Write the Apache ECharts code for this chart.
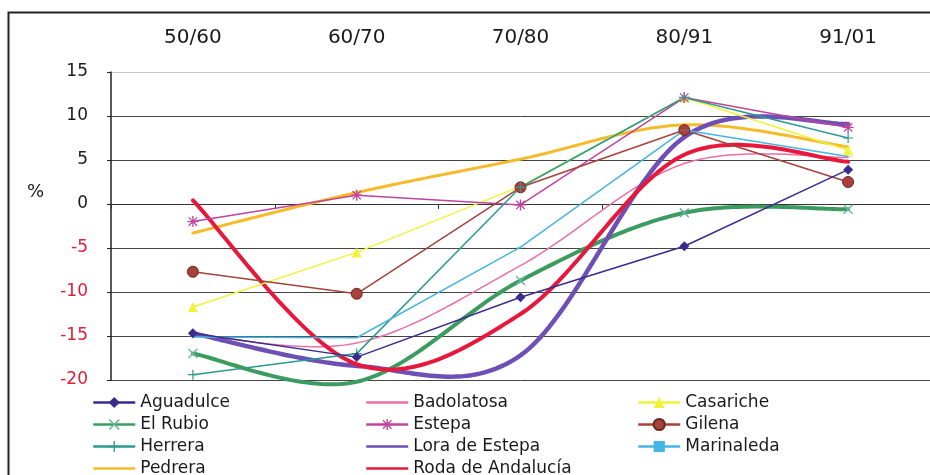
<!DOCTYPE html>
<html>
<head>
<meta charset="utf-8">
<script src="https://cdn.jsdelivr.net/npm/echarts@6/dist/echarts.min.js"></script>
<style>
html,body{margin:0;padding:0;background:#fff;}
#chart{width:930px;height:475px;}
</style>
</head>
<body>
<div id="chart"></div>
<script>
var categories = ['50/60', '60/70', '70/80', '80/91', '91/01'];
var yTicks = [-20, 15, 5];

var aguadulce  = [-14.7, -17.4, -10.6, -4.8, 3.9];
var badolatosa = [-14.8, -15.8, -7.0, 4.6, 5.3];
var casariche  = [-11.7, -5.5, 2.0, 12.1, 6.1];
var elRubio    = [-17.0, -20.2, -8.7, -1.0, -0.6];
var estepa     = [-2.0, 1.0, -0.1, 12.1, 8.7];
var gilena     = [-7.7, -10.2, 1.9, 8.4, 2.5];
var herrera    = [-19.4, -17.0, 1.9, 12.1, 7.5];
var lora       = [-14.7, -18.4, -17.2, 7.6, 9.1];
var marinaleda = [-15.1, -15.2, -4.9, 8.4, 5.4];
var pedrera    = [-3.3, 1.3, 5.1, 9.0, 6.5];
var roda       = [0.4, -18.2, -12.5, 5.6, 4.8];

var legendCol1 = ['Aguadulce', 'El Rubio', 'Herrera', 'Pedrera'];
var legendCol2 = ['Badolatosa', 'Estepa', 'Lora de Estepa', 'Roda de Andalucía'];
var legendCol3 = ['Casariche', 'Gilena', 'Marinaleda'];
var noMarker = ['Badolatosa', 'Pedrera', 'Lora de Estepa', 'Roda de Andalucía'];

var SYM_X = 'path://M0,1 L1,0 L5,4 L9,0 L10,1 L6,5 L10,9 L9,10 L5,6 L1,10 L0,9 L4,5 Z';
var SYM_PLUS = 'path://M4.4,0 H5.6 V4.4 H10 V5.6 H5.6 V10 H4.4 V5.6 H0 V4.4 H4.4 Z';
var SYM_AST = 'path://M4.4,0 H5.6 V4.4 H10 V5.6 H5.6 V10 H4.4 V5.6 H0 V4.4 H4.4 Z M0.8,1.6 L1.6,0.8 L5,4.2 L8.4,0.8 L9.2,1.6 L5.8,5 L9.2,8.4 L8.4,9.2 L5,5.8 L1.6,9.2 L0.8,8.4 L4.2,5 Z';
var SYM_DASH = 'path://M0,0 H10 V2 H0 Z';

function mk(name, data, color, width, symbol, size, extra) {
  var s = {
    name: name, type: 'line', data: data, smooth: false,
    xAxisIndex: 0, yAxisIndex: 0,
    lineStyle: { color: color, width: width },
    itemStyle: { color: color },
    symbol: symbol || 'circle', symbolSize: size || 4, showSymbol: !!symbol,
    emphasis: { disabled: true }, animation: false
  };
  if (extra) { for (var k in extra) s[k] = extra[k]; }
  return s;
}

// Excel-style smoothed curve (Catmull-Rom through the data points, via axis coords)
function smoothCurve(values, color, width) {
  return {
    type: 'custom', xAxisIndex: 0, yAxisIndex: 0, silent: true, animation: false,
    data: values.map(function (v, i) { return [i, v]; }),
    encode: { x: 0, y: 1 },
    renderItem: function (params, api) {
      if (params.dataIndex !== 0) return null;
      var P = values.map(function (v, i) { return api.coord([i, v]); });
      var n = P.length, pts = [];
      for (var i = 0; i < n - 1; i++) {
        var p0 = P[Math.max(i - 1, 0)], p1 = P[i], p2 = P[i + 1], p3 = P[Math.min(i + 2, n - 1)];
        var c1 = [p1[0] + (p2[0] - p0[0]) / 6, p1[1] + (p2[1] - p0[1]) / 6];
        var c2 = [p2[0] - (p3[0] - p1[0]) / 6, p2[1] - (p3[1] - p1[1]) / 6];
        for (var s = 0; s <= 40; s++) {
          if (i > 0 && s === 0) continue;
          var t = s / 40, u = 1 - t;
          pts.push([
            u*u*u*p1[0] + 3*u*u*t*c1[0] + 3*u*t*t*c2[0] + t*t*t*p2[0],
            u*u*u*p1[1] + 3*u*u*t*c1[1] + 3*u*t*t*c2[1] + t*t*t*p2[1]
          ]);
        }
      }
      return { type: 'polyline', shape: { points: pts },
        style: { stroke: color, lineWidth: width, fill: null, lineJoin: 'round', lineCap: 'round' } };
    }
  };
}

function hid(color, width) { return { lineStyle: { color: color, width: width, opacity: 0 } }; }

var series = [
  mk('Badolatosa', badolatosa, '#ec6fa5', 1.5, null, null, hid('#ec6fa5', 1.5)),
  smoothCurve(badolatosa, '#ec6fa5', 1.5),
  mk('Casariche', casariche, '#f2f23a', 1.5, 'triangle', 10),
  mk('Pedrera', pedrera, '#f6bb2a', 3, null, null, hid('#f6bb2a', 3)),
  smoothCurve(pedrera, '#f6bb2a', 3),
  mk('Estepa', estepa, '#c0439c', 1.5, SYM_AST, 11),
  mk('Gilena', gilena, '#a8413b', 1.5, 'circle', 11, {itemStyle:{color:'#a8413b', borderColor:'#6b2a20', borderWidth:1}}),
  mk('Herrera', herrera, '#2b9b8f', 1.5, SYM_PLUS, 10),
  mk('Marinaleda', marinaleda, '#45b5e3', 1.5, SYM_DASH, [10, 2], {symbolKeepAspect: true}),
  smoothCurve(elRubio, '#3c9b5e', 4),
  mk('El Rubio', elRubio, '#3c9b5e', 4, SYM_X, 10, {itemStyle:{color:'#6ab4a4'}, lineStyle:{color:'#3c9b5e', width:4, opacity:0}}),
  mk('Aguadulce', aguadulce, '#3b2b8c', 1.5, 'diamond', 10),
  mk('Lora de Estepa', lora, '#6d4fb5', 4.5, null, null, hid('#6d4fb5', 4.5)),
  smoothCurve(lora, '#6d4fb5', 4.5),
  mk('Roda de Andalucía', roda, '#e8173c', 4, null, null, hid('#e8173c', 4)),
  smoothCurve(roda, '#e8173c', 4)
];

// one legend per entry so each sits exactly in the reference's 3-column grid
var legendFont = { fontFamily: 'DejaVu Sans', fontSize: 17, color: '#1a1a1a', lineHeight: 14 };
var legends = [];
[[legendCol1, 92], [legendCol2, 365], [legendCol3, 637]].forEach(function (col) {
  col[0].forEach(function (name, r) {
    var item = { name: name, lineStyle: { opacity: 1, width: 2.5 } };
    if (noMarker.indexOf(name) >= 0) item.itemStyle = { opacity: 0 };
    legends.push({
      orient: 'horizontal', left: col[1], top: 394 + r * 22,
      data: [item],
      itemWidth: 42, itemHeight: 14, itemGap: 0, padding: 0,
      selectedMode: false, textStyle: legendFont
    });
  });
});

var chart = echarts.init(document.getElementById('chart'));
chart.setOption({
  backgroundColor: '#fff',
  animation: false,
  grid: { left: 111, top: 72, width: 822, height: 308 },
  xAxis: [
    { type: 'category', data: categories, position: 'top', boundaryGap: true,
      axisLine: { show: false, onZero: false }, axisTick: { show: false },
      axisLabel: { margin: 24, fontFamily: 'DejaVu Sans', fontSize: 20, color: '#1a1a1a' },
      splitLine: { show: false } },
    { type: 'category', data: categories, position: 'bottom', boundaryGap: true,
      axisLine: { show: true, onZero: true, lineStyle: { color: '#333', width: 1 } },
      axisTick: { show: true, length: 5, inside: false, lineStyle: { color: '#333' } },
      axisLabel: { show: false }, splitLine: { show: false } }
  ],
  yAxis: {
    type: 'value', min: yTicks[0], max: yTicks[1], interval: yTicks[2],
    axisLine: { show: true, lineStyle: { color: '#222', width: 1.5 } },
    axisTick: { show: true, length: 4, lineStyle: { color: '#222' } },
    axisLabel: { margin: 23, fontFamily: 'DejaVu Sans', fontSize: 17,
      color: function (v) { return Number(v) < 0 ? '#e0203a' : '#1a1a1a'; } },
    splitLine: { show: true, lineStyle: { color: ['#444','#444','#444','#444','#444','#444','#444','#c8c8c8'], width: 1 } }
  },
  legend: legends,
  graphic: [
    { type: 'rect', left: 6, top: 10, shape: { x: 0, y: 0, width: 960, height: 500 },
      style: { fill: 'none', stroke: '#222', lineWidth: 2 }, silent: true },
    { type: 'text', left: 27, top: 183, style: { text: '%', font: '18px "DejaVu Sans"', fill: '#1a1a1a' } }
  ],
  series: series
});
</script>
</body>
</html>
